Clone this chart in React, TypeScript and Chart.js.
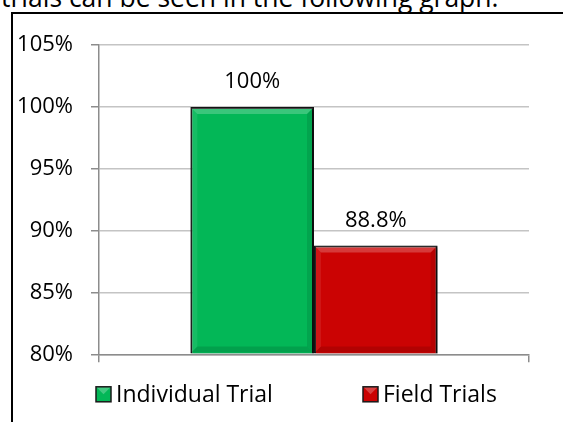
import React, { useEffect, useRef } from "react";
import { Chart, registerables } from "chart.js";

Chart.register(...registerables);

const categories = [""];
const seriesNames = ["Individual Trial", "Field Trials"];
const individualTrial = [100];
const fieldTrials = [88.8];
const seriesColors = ["#03b757", "#cb0303"];
const yTicks = [80, 85, 90, 95, 100, 105];

const FONT = "'Open Sans', sans-serif";

const bevelPlugin = {
  id: "bevel",
  beforeDatasetsDraw(chart: any) {
    const ctx = chart.ctx;
    ctx.save();
    ctx.shadowColor = "rgba(0,0,0,0.35)";
    ctx.shadowOffsetX = 2;
    ctx.shadowOffsetY = 2;
    ctx.shadowBlur = 3;
  },
  afterDatasetsDraw(chart: any) {
    const ctx = chart.ctx;
    ctx.restore();
    ctx.save();
    chart.data.datasets.forEach((ds: any, i: number) => {
      const meta = chart.getDatasetMeta(i);
      meta.data.forEach((el: any) => {
        const l = el.x - el.width / 2 + 1;
        const r = el.x + el.width / 2 - 1;
        const t = el.y + 1;
        const b = el.base - 1;
        const d = 6;
        ctx.beginPath();
        ctx.moveTo(l, t); ctx.lineTo(r, t); ctx.lineTo(r - d, t + d); ctx.lineTo(l + d, t + d); ctx.closePath();
        ctx.fillStyle = "rgba(255,255,255,0.22)";
        ctx.fill();
        ctx.beginPath();
        ctx.moveTo(l, t); ctx.lineTo(l + d, t + d); ctx.lineTo(l + d, b - d); ctx.lineTo(l, b); ctx.closePath();
        ctx.fillStyle = "rgba(255,255,255,0.08)";
        ctx.fill();
        ctx.beginPath();
        ctx.moveTo(r, t); ctx.lineTo(r - d, t + d); ctx.lineTo(r - d, b - d); ctx.lineTo(r, b); ctx.closePath();
        ctx.fillStyle = "rgba(0,0,0,0.1)";
        ctx.fill();
        ctx.beginPath();
        ctx.moveTo(l, b); ctx.lineTo(l + d, b - d); ctx.lineTo(r - d, b - d); ctx.lineTo(r, b); ctx.closePath();
        ctx.fillStyle = "rgba(0,0,0,0.12)";
        ctx.fill();
      });
    });
    ctx.restore();
  },
};

const labelPlugin = {
  id: "valueLabels",
  afterDatasetsDraw(chart: any) {
    const ctx = chart.ctx;
    ctx.save();
    ctx.font = `22px ${FONT}`;
    ctx.fillStyle = "#000";
    ctx.textAlign = "center";
    ctx.textBaseline = "middle";
    chart.data.datasets.forEach((ds: any, i: number) => {
      const meta = chart.getDatasetMeta(i);
      meta.data.forEach((el: any, j: number) => {
        ctx.fillText(`${ds.data[j]}%`, el.x, el.y - 25);
      });
    });
    ctx.restore();
  },
};

const legendPlugin = {
  id: "customLegend",
  afterDraw(chart: any) {
    const ctx = chart.ctx;
    const area = chart.chartArea;
    const cy = area.bottom + 40;
    const offsets = [-3, 264];
    ctx.save();
    ctx.font = `23px ${FONT}`;
    ctx.textBaseline = "middle";
    ctx.textAlign = "left";
    chart.data.datasets.forEach((ds: any, i: number) => {
      const bx = area.left + offsets[i];
      const size = 15;
      const by = cy - size / 2;
      ctx.fillStyle = ds.backgroundColor;
      ctx.fillRect(bx, by, size, size);
      ctx.beginPath();
      ctx.moveTo(bx, by); ctx.lineTo(bx + size, by); ctx.lineTo(bx + size / 2, by + size / 2); ctx.closePath();
      ctx.fillStyle = "rgba(255,255,255,0.25)";
      ctx.fill();
      ctx.strokeStyle = "#1a1a1a";
      ctx.lineWidth = 1.5;
      ctx.strokeRect(bx, by, size, size);
      ctx.fillStyle = "#000";
      ctx.fillText(ds.label, bx + size + 5, cy + 1);
    });
    ctx.restore();
  },
};

function ChartView() {
  const ref = useRef<HTMLCanvasElement>(null);
  useEffect(() => {
    if (!ref.current) return;
    const chart = new Chart(ref.current, {
      type: "bar",
      data: {
        labels: categories,
        datasets: [
          {
            label: seriesNames[0],
            data: individualTrial,
            backgroundColor: seriesColors[0],
            borderColor: "#141414",
            borderWidth: 2,
            base: 80,
            barPercentage: 1,
            categoryPercentage: 0.575,
          } as any,
          {
            label: seriesNames[1],
            data: fieldTrials,
            backgroundColor: seriesColors[1],
            borderColor: "#141414",
            borderWidth: 2,
            base: 80,
            barPercentage: 1,
            categoryPercentage: 0.575,
          } as any,
        ],
      },
      options: {
        animation: false,
        responsive: false,
        maintainAspectRatio: false,
        layout: { autoPadding: false, padding: { top: 28, left: 0, right: 34, bottom: 57.7 } },
        plugins: {
          legend: { display: false },
          tooltip: { enabled: false },
        },
        scales: {
          x: {
            offset: true,
            grid: {
              display: true,
              offset: true,
              drawOnChartArea: false,
              drawTicks: true,
              tickLength: 8,
              tickColor: "#8c8c8c",
              lineWidth: 1.5,
            },
            border: { color: "#8c8c8c", width: 1.5 },
            ticks: { display: false },
            afterFit: (s: any) => { s.height = 10; },
          },
          y: {
            min: 80,
            max: 105,
            afterBuildTicks: (s: any) => { s.ticks = yTicks.map((v) => ({ value: v })); },
            ticks: {
              padding: 18,
              color: "#000",
              font: { family: FONT, size: 22 },
              callback: (v: any) => `${v}%`,
            },
            grid: {
              color: "#c4c4c4",
              lineWidth: 1.5,
              tickLength: 8,
              tickColor: "#8c8c8c",
            },
            border: { color: "#8c8c8c", width: 1.5 },
            afterFit: (s: any) => { s.width = 86; },
          },
        },
      } as any,
      plugins: [bevelPlugin, labelPlugin, legendPlugin],
    });
    return () => chart.destroy();
  }, []);
  return (
    <canvas
      ref={ref}
      width={550}
      height={408}
      style={{ position: "absolute", left: 13, top: 14, width: 550, height: 408 }}
    />
  );
}

export default function App() {
  return (
    <div
      style={{
        position: "fixed",
        left: 0,
        top: 0,
        width: 563,
        height: 422,
        overflow: "hidden",
        background: "#fff",
      }}
    >
      <div
        style={{
          position: "absolute",
          left: 1,
          top: -16,
          fontFamily: FONT,
          fontSize: 26.5,
          lineHeight: "26px",
          whiteSpace: "nowrap",
          color: "#000",
        }}
      >
        trials can be seen in the following graph.
      </div>
      <div
        style={{
          position: "absolute",
          left: 11,
          top: 12,
          width: 600,
          height: 500,
          borderLeft: "2px solid #000",
          borderTop: "2px solid #000",
        }}
      />
      <ChartView />
    </div>
  );
}
